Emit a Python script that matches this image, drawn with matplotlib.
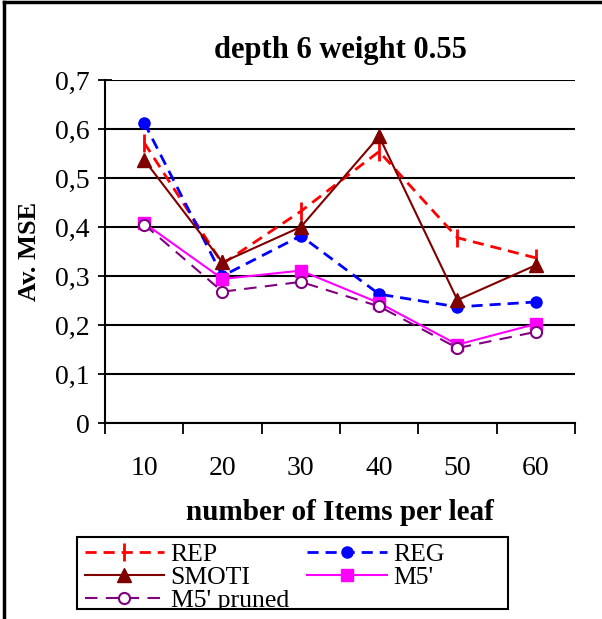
import numpy as np
import matplotlib.pyplot as plt
from matplotlib.lines import Line2D
from matplotlib.patches import Rectangle

plt.rcParams['font.family'] = ['Liberation Serif', 'DejaVu Serif']

items = ['10', '20', '30', '40', '50', '60']
rep = [0.572, 0.325, 0.432, 0.554, 0.378, 0.337]
reg = [0.613, 0.300, 0.382, 0.263, 0.237, 0.247]
smoti = [0.537, 0.328, 0.400, 0.585, 0.251, 0.322]
m5 = [0.408, 0.294, 0.311, 0.245, 0.160, 0.202]
m5_pruned = [0.405, 0.268, 0.288, 0.238, 0.153, 0.186]

x = np.arange(len(items))

fig = plt.figure(figsize=(6.02, 6.19), dpi=100)
ax = fig.add_axes([0.1744, 0.3166, 0.7806, 0.5542])

l_rep, = ax.plot(x, rep, color='#ff0000', linestyle=(0, (4, 2.5)), linewidth=2, marker='|',
                 markersize=13, markeredgewidth=2, label='REP')
l_reg, = ax.plot(x, reg, color='#0000ff', linestyle=(0, (4, 2.5)), linewidth=2, marker='o',
                 markersize=8, label='REG')
l_smoti, = ax.plot(x, smoti, color='#800000', linestyle='-', linewidth=1.5, marker='^',
                   markersize=10, label='SMOTI')
l_m5, = ax.plot(x, m5, color='#ff00ff', linestyle='-', linewidth=1.5, marker='s',
                markersize=9, label="M5'")
l_pr, = ax.plot(x, m5_pruned, color='#800080', linestyle=(0, (6, 4)), linewidth=1.5, marker='o',
                markersize=8, markerfacecolor='white', markeredgewidth=1.5, label="M5' pruned")

ax.set_xlim(-0.5, 5.5)
ax.set_ylim(0, 0.7)
ax.set_yticks(np.arange(0, 0.71, 0.1))
ax.set_yticklabels(['0'] + ['0,%d' % i for i in range(1, 8)])
ax.yaxis.grid(True, color='black', linewidth=1.5)
ax.set_axisbelow(True)

ax.set_xticks(x)
ax.set_xticklabels(items)
ax.set_xticks(np.arange(-0.5, 6, 1), minor=True)
ax.tick_params(axis='x', which='major', length=0, pad=24, labelsize=20)
ax.tick_params(axis='x', which='minor', length=8, width=1.3, direction='out')
ax.tick_params(axis='y', length=10, width=1.3, direction='inout', pad=6, labelsize=20)

for s in ['top', 'right']:
    ax.spines[s].set_visible(False)
for s in ['left', 'bottom']:
    ax.spines[s].set_linewidth(1.5)

ax.set_title('depth 6 weight 0.55', fontsize=22, fontweight='bold', pad=16)
ax.set_xlabel('number of Items per leaf', fontsize=21, fontweight='bold', labelpad=13)
ax.set_ylabel('Av. MSE', fontsize=19, fontweight='bold', labelpad=10)

# legend box, rows filled left to right; the last row is cut by the box
box = Rectangle((0.128, 0.016), 0.716, 0.116, transform=fig.transFigure,
                facecolor='white', edgecolor='black', linewidth=1.5, zorder=1)
fig.add_artist(box)
leg = fig.legend([l_rep, l_smoti, l_pr, l_reg, l_m5],
                 ['REP', 'SMOTI', "M5' pruned", 'REG', "M5'"],
                 loc='upper left', bbox_to_anchor=(0.132, 0.131), ncol=2,
                 fontsize=18.5, frameon=False, handlelength=3.1, labelspacing=0.0,
                 borderpad=0.2, columnspacing=0.7, handletextpad=0.25, borderaxespad=0)
leg.set_zorder(2)
clip = Rectangle((0.128, 0.016), 0.716, 0.116, transform=fig.transFigure)
for a in leg.findobj(lambda o: isinstance(o, (Line2D, plt.Text))):
    a.set_clip_path(clip)

# outer frame on the left and top
fig.add_artist(Line2D([0.006, 0.006], [0, 0.997], color='black', linewidth=2.5))
fig.add_artist(Line2D([0.006, 1], [0.997, 0.997], color='black', linewidth=2.5))

fig.savefig('out.png', dpi=100)
